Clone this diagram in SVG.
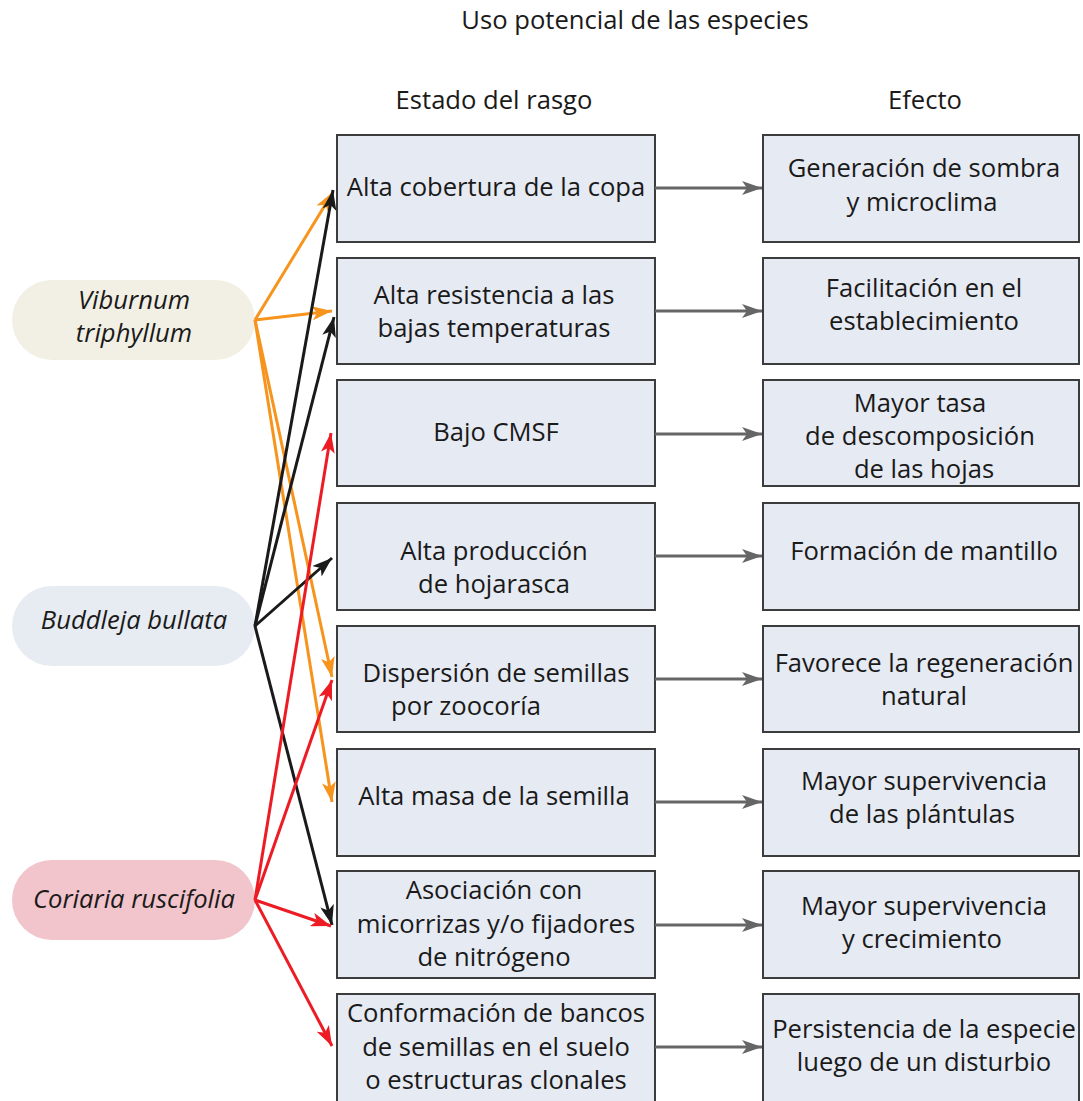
<svg xmlns="http://www.w3.org/2000/svg" width="1083" height="1101" viewBox="0 0 1083 1101">
<style>
text{font-family:"Open Sans","Liberation Sans",sans-serif;font-size:25.6px;fill:#1a1a1a;text-anchor:middle}
.it{font-style:italic}
.box{fill:#e6eaf3;stroke:#3c3c3c;stroke-width:2}
.c{fill:none;stroke-width:3}
.o{stroke:#f7941d}.k{stroke:#1a1a1a}.r{stroke:#ed1c24}.g{stroke:#666666}
</style>
<defs>
<marker id="mo" viewBox="0 0 20 14" refX="20" refY="7" markerWidth="20" markerHeight="14" markerUnits="userSpaceOnUse" orient="auto"><path d="M0,0 L20,7 L0,14 L5,7 z" fill="#f7941d"/></marker>
<marker id="mk" viewBox="0 0 20 14" refX="20" refY="7" markerWidth="20" markerHeight="14" markerUnits="userSpaceOnUse" orient="auto"><path d="M0,0 L20,7 L0,14 L5,7 z" fill="#1a1a1a"/></marker>
<marker id="mr" viewBox="0 0 20 14" refX="20" refY="7" markerWidth="20" markerHeight="14" markerUnits="userSpaceOnUse" orient="auto"><path d="M0,0 L20,7 L0,14 L5,7 z" fill="#ed1c24"/></marker>
<marker id="mg" viewBox="0 0 20 14" refX="20" refY="7" markerWidth="20" markerHeight="14" markerUnits="userSpaceOnUse" orient="auto"><path d="M0,0 L20,7 L0,14 L5,7 z" fill="#666666"/></marker>
</defs>
<rect width="1083" height="1101" fill="#ffffff"/>
<text x="635" y="29">Uso potencial de las especies</text>
<text x="494" y="109">Estado del rasgo</text>
<text x="925" y="109">Efecto</text>

<g id="sp-viburnum"><rect x="12" y="280" width="243" height="80" rx="40" fill="#f2f0e4"/><text class="it" x="134" y="309">Viburnum</text><text class="it" x="134" y="342">triphyllum</text></g>
<g id="sp-buddleja"><rect x="12" y="586" width="243" height="80" rx="40" fill="#e7ebf2"/><text class="it" x="134" y="629">Buddleja bullata</text></g>
<g id="sp-coriaria"><rect x="12" y="860" width="243" height="80" rx="40" fill="#f2c4cb"/><text class="it" x="134" y="908">Coriaria ruscifolia</text></g>

<g id="t1"><rect class="box" x="337" y="135" width="318" height="107"/><text x="496" y="196">Alta cobertura de la copa</text></g>
<g id="t2"><rect class="box" x="337" y="258" width="318" height="106"/><text x="494" y="304">Alta resistencia a las</text><text x="494" y="337">bajas temperaturas</text></g>
<g id="t3"><rect class="box" x="337" y="380" width="318" height="106"/><text x="496" y="441">Bajo CMSF</text></g>
<g id="t4"><rect class="box" x="337" y="503" width="318" height="107"/><text x="494" y="560">Alta producción</text><text x="494" y="593">de hojarasca</text></g>
<g id="t5"><rect class="box" x="337" y="626" width="318" height="106"/><text x="496" y="682">Dispersión de semillas</text><text x="466" y="715">por zoocoría</text></g>
<g id="t6"><rect class="box" x="337" y="749" width="318" height="107"/><text x="494" y="805">Alta masa de la semilla</text></g>
<g id="t7"><rect class="box" x="337" y="871" width="318" height="107"/><text x="494" y="899">Asociación con</text><text x="496" y="933">micorrizas y/o fijadores</text><text x="494" y="966">de nitrógeno</text></g>
<g id="t8"><rect class="box" x="337" y="994" width="318" height="110"/><text x="496" y="1022">Conformación de bancos</text><text x="496" y="1056">de semillas en el suelo</text><text x="496" y="1089">o estructuras clonales</text></g>

<g id="e1"><rect class="box" x="763" y="135" width="316" height="107"/><text x="924" y="177">Generación de sombra</text><text x="922" y="211">y microclima</text></g>
<g id="e2"><rect class="box" x="763" y="258" width="316" height="106"/><text x="924" y="297">Facilitación en el</text><text x="924" y="330">establecimiento</text></g>
<g id="e3"><rect class="box" x="763" y="380" width="316" height="106"/><text x="920" y="412">Mayor tasa</text><text x="920" y="445">de descomposición</text><text x="924" y="478">de las hojas</text></g>
<g id="e4"><rect class="box" x="763" y="503" width="316" height="107"/><text x="924" y="560">Formación de mantillo</text></g>
<g id="e5"><rect class="box" x="763" y="626" width="316" height="106"/><text x="924" y="672">Favorece la regeneración</text><text x="924" y="705">natural</text></g>
<g id="e6"><rect class="box" x="763" y="749" width="316" height="107"/><text x="924" y="790">Mayor supervivencia</text><text x="922" y="823">de las plántulas</text></g>
<g id="e7"><rect class="box" x="763" y="871" width="316" height="107"/><text x="924" y="915">Mayor supervivencia</text><text x="922" y="948">y crecimiento</text></g>
<g id="e8"><rect class="box" x="763" y="994" width="316" height="110"/><text x="924" y="1038">Persistencia de la especie</text><text x="924" y="1071">luego de un disturbio</text></g>

<g id="connectors">
<line class="c g" x1="655" y1="188" x2="762" y2="188" marker-end="url(#mg)"/>
<line class="c g" x1="655" y1="311" x2="762" y2="311" marker-end="url(#mg)"/>
<line class="c g" x1="655" y1="434" x2="762" y2="434" marker-end="url(#mg)"/>
<line class="c g" x1="655" y1="556" x2="762" y2="556" marker-end="url(#mg)"/>
<line class="c g" x1="655" y1="679" x2="762" y2="679" marker-end="url(#mg)"/>
<line class="c g" x1="655" y1="802" x2="762" y2="802" marker-end="url(#mg)"/>
<line class="c g" x1="655" y1="925" x2="762" y2="925" marker-end="url(#mg)"/>
<line class="c g" x1="655" y1="1047" x2="762" y2="1047" marker-end="url(#mg)"/>

<line class="c o" x1="255" y1="320" x2="333" y2="192" marker-end="url(#mo)"/>
<line class="c o" x1="255" y1="320" x2="332" y2="311" marker-end="url(#mo)"/>
<line class="c o" x1="255" y1="320" x2="332" y2="677" marker-end="url(#mo)"/>
<line class="c o" x1="255" y1="320" x2="332" y2="802" marker-end="url(#mo)"/>

<line class="c k" x1="255" y1="626" x2="333" y2="190" marker-end="url(#mk)"/>
<line class="c k" x1="255" y1="626" x2="334" y2="317" marker-end="url(#mk)"/>
<line class="c k" x1="255" y1="626" x2="332" y2="558" marker-end="url(#mk)"/>
<line class="c k" x1="255" y1="626" x2="332" y2="925" marker-end="url(#mk)"/>

<line class="c r" x1="255" y1="900" x2="331" y2="433" marker-end="url(#mr)"/>
<line class="c r" x1="255" y1="900" x2="332" y2="680" marker-end="url(#mr)"/>
<line class="c r" x1="255" y1="900" x2="331" y2="926" marker-end="url(#mr)"/>
<line class="c r" x1="255" y1="900" x2="332" y2="1046" marker-end="url(#mr)"/>
</g>
</svg>
